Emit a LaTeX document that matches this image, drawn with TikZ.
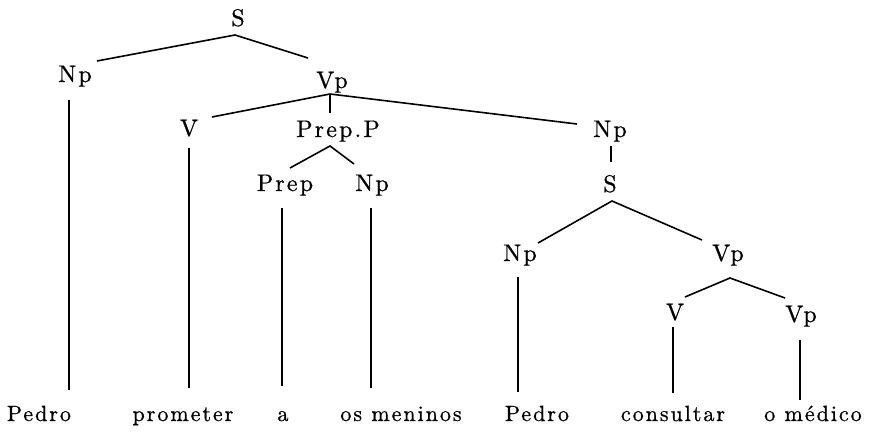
\documentclass[tikz,border=0pt]{standalone}
\usepackage{fontspec}
\setmainfont{lmroman10-regular.otf}[LetterSpace=9,FakeBold=0.8]
\begin{document}
\begin{tikzpicture}[x=1pt,y=-1pt,
  lab/.style={anchor=base,inner sep=0pt,font=\fontsize{24}{28}\selectfont},
  word/.style={anchor=base,inner sep=0pt,font=\fontsize{22}{26}\selectfont},
  br/.style={line width=1.6pt}]
\useasboundingbox (0,0) rectangle (874,436);
% labels
\node[lab] (S0) at (238,26) {S};
\node[lab] (Np1) at (75,82) {Np};
\node[lab] (Vp1) at (332,88) {Vp};
\node[lab] (V1) at (189,136) {V};
\node[lab] (PP) at (338,137) {Prep.P};
\node[lab] (Prep) at (285,191) {Prep};
\node[lab] (Np2) at (372,191) {Np};
\node[lab] (Np3) at (610,137) {Np};
\node[lab] (S2) at (610,192) {S};
\node[lab] (Np4) at (520,261) {Np};
\node[lab] (Vp2) at (728,261) {Vp};
\node[lab] (V2) at (675,320) {V};
\node[lab] (Vp3) at (801,322) {Vp};
% words
\node[word] (w1) at (39,421) {Pedro};
\node[word] (w2) at (183,421) {prometer};
\node[word] (w3) at (283,421) {a};
\node[word] (w4) at (401,421) {os meninos};
\node[word] (w5) at (537,421) {Pedro};
\node[word] (w6) at (673,421) {consultar};
\node[word] (w7) at (813,421) {o médico};
% branch points
\coordinate (S0b) at (235,35);
\coordinate (Np1t) at (97,61);
\coordinate (Vp1t) at (308,58);
\coordinate (Vp1b) at (330,94);
\coordinate (V1t) at (212,117);
\coordinate (PPt) at (330,113);
\coordinate (Np3t) at (577,124);
\coordinate (PPb) at (330,146);
\coordinate (Prept) at (290,168);
\coordinate (Np2t) at (354,164);
\coordinate (Np3b) at (611,146);
\coordinate (S2t) at (611,162);
\coordinate (S2b) at (612,201);
\coordinate (Np4t) at (538,243);
\coordinate (Vp2t) at (702,240);
\coordinate (Vp2b) at (730,278);
\coordinate (V2t) at (685,297);
\coordinate (Vp3t) at (785,298);
\coordinate (Np1b) at (69,100);
\coordinate (w1t) at (69,390);
\coordinate (V1b) at (189,148);
\coordinate (w2t) at (189,388);
\coordinate (Prepb) at (282,208);
\coordinate (w3t) at (282,386);
\coordinate (Np2b) at (371,208);
\coordinate (w4t) at (371,388);
\coordinate (Np4b) at (518,277);
\coordinate (w5t) at (518,392);
\coordinate (V2b) at (673,327);
\coordinate (w6t) at (673,393);
\coordinate (Vp3b) at (800,340);
\coordinate (w7t) at (800,400);
% branches
\draw[br] (Np1t) -- (S0b) -- (Vp1t);
\draw[br] (V1t) -- (Vp1b) -- (Np3t);
\draw[br] (Vp1b) -- (PPt);
\draw[br] (Prept) -- (PPb) -- (Np2t);
\draw[br] (Np3b) -- (S2t);
\draw[br] (Np4t) -- (S2b) -- (Vp2t);
\draw[br] (V2t) -- (Vp2b) -- (Vp3t);
\draw[br] (Np1b) -- (w1t);
\draw[br] (V1b) -- (w2t);
\draw[br] (Prepb) -- (w3t);
\draw[br] (Np2b) -- (w4t);
\draw[br] (Np4b) -- (w5t);
\draw[br] (V2b) -- (w6t);
\draw[br] (Vp3b) -- (w7t);
\end{tikzpicture}
\end{document}
